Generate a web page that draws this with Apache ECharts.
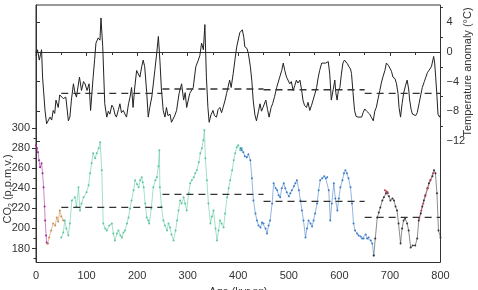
<!DOCTYPE html>
<html>
<head>
<meta charset="utf-8">
<script src="https://cdn.jsdelivr.net/npm/echarts@6/dist/echarts.min.js"></script>
<style>
    html, body { margin: 0; padding: 0; background: #fff; }
    #chart { width: 478px; height: 290px; }
</style>
</head>
<body>
<div id="chart"></div>
<script>
// age (kyr BP), temperature anomaly (deg C)
var tempData = [
    [0, -0.5], [1.3, -0.6], [3, 0.3], [6.5, -1.1], [9, -0.3], [11, 0.3], [13, -3.4], [17.8, -7.9],
    [21, -9.7], [24, -9.5], [27.7, -8.8], [31, -9.2], [34, -7.9], [37, -8.3], [39.5, -6.5], [44, -7.5],
    [47, -5.8], [50.7, -5.6], [54, -6.3], [59, -6.1], [64, -9.3], [67, -8.8], [70, -6.5], [74, -4.3],
    [77, -5.5], [80, -6.1], [86, -3.4], [90, -5.2], [94, -4.0], [97, -4.3], [101, -5.2], [105, -4.3],
    [108, -7.9], [113, -3.4], [116, -1.0], [118.6, 1.2], [123, 1.9], [126.5, 1.6], [128.5, 4.6], [132, 0.7],
    [136, -7], [140, -8.8], [143, -8.0], [146, -8.4], [150, -7.2], [153, -7.5], [156, -8.4], [159, -8.8],
    [163, -7.8], [166, -7], [169, -8.2], [172.6, -7.9], [176, -8.4], [179, -8.8], [183, -7.0], [186, -6.1],
    [189, -4.8], [192, -7.5], [195, -5.0], [199, -2.5], [205.5, -3.4], [209, -2.0], [212, -1.1], [215, -2.0],
    [219, -5.5], [222, -8.8], [225, -7.5], [229, -6.1], [235, -2.5], [239, 0.0], [242, 2.1], [245, -1.1],
    [248, -5.0], [251.6, -7.9], [255, -8.8], [258, -7.5], [261, -8.6], [265, -8.4], [268, -9.5], [271, -9.3],
    [275, -8.5], [278, -7.9], [283, -5.6], [288, -4.3], [292, -6.5], [295, -5.5], [298, -7.5], [304, -5.6],
    [311, -4.8], [316, -2.0], [321, -1.1], [324, -0.5], [327.5, 1.2], [331, 0.3], [334, 3.7], [337, -3.4],
    [340, -7.5], [342.5, -9.5], [346, -8.5], [350, -7.9], [353, -8.6], [357, -8.8], [360, -7.8], [363.6, -7.5],
    [367, -8.2], [370, -7.5], [374, -6.5], [377, -5.6], [383, -3.8], [386, -4.8], [390, -2.9], [394, -0.8],
    [397, 0.7], [403, 2.6], [408, 3.0], [411, 2.0], [413, 0.7], [417, 0.5], [420, -0.2], [424, -2.0],
    [427, -4.0], [429.5, -6.5], [433, -8.5], [436, -9.3], [440, -8.0], [443, -7.0], [446, -8.0], [449, -7.5],
    [454.5, -6.5], [458, -7.8], [461, -8.8], [465, -7.5], [468, -7.0], [472, -6.0], [476, -4.8], [482, -3.4],
    [486, -2.5], [489, -1.5], [492, -2.5], [495.5, -3.4], [499, -3.5], [502, -4.3], [505, -4.0], [508.5, -5.2],
    [512, -4.5], [515, -3.8], [518, -4.2], [522, -3.8], [525, -5.0], [528, -6.5], [531, -7.2], [535, -7.5],
    [538, -6.8], [541.5, -7.9], [545, -7.2], [548, -6.5], [551, -5.8], [555, -4.8], [558, -3.5], [561, -2.5],
    [565, -1.5], [568, -1.3], [573, -1.5], [578, -1.3], [581, -3.0], [584, -6.5], [588, -5.0], [591, -3.8],
    [593, -5.5], [595.5, -6.5], [598, -5.2], [601, -4.8], [604, -3.0], [607, -1.5], [610, -1.1], [613, -1.1],
    [616, -1.6], [619, -2.0], [622, -2.3], [624, -2.9], [627, -5.5], [630, -7.9], [633, -8.7], [637, -8.8],
    [640, -8.7], [644, -8.8], [647, -8.2], [650, -7.7], [654, -8.0], [657, -7.9], [660, -8.4], [663, -8.8],
    [667, -9.3], [670, -8.0], [673, -7.5], [676, -6.5], [680, -5.2], [683, -4.2], [686, -3.4], [690, -2.5],
    [693, -1.5], [697, -1.8], [700, -2.0], [703, -2.6], [706, -3.4], [710, -3.6], [713, -4.3], [716, -5.6],
    [718, -7.5], [721, -8.8], [724, -7.0], [727, -5.6], [731, -4.5], [734, -3.8], [737, -5.0], [739, -6.5],
    [742, -7.8], [744.5, -8.4], [748, -8.6], [751, -8.6], [754, -8.2], [757.5, -7.0], [761, -5.8], [764, -4.8],
    [768, -4.0], [771, -3.4], [774, -2.8], [777, -2.5], [782, -2.0], [786.5, -0.6], [788.5, -1.5], [790.5, -3.4],
    [793, -6.0], [795, -8.4], [798, -8.8], [800, -8.5]
];

// CO2 records (age kyr BP, ppmv), one array per ice-core section
var co2Purple = [
    [0, 283], [2, 280], [4, 276], [6, 268], [8, 261], [11, 265], [13, 255], [15, 241], [17, 222],
    [18, 208], [20, 193], [21, 186], [23, 185]
];
var co2Orange = [
    [23, 185], [26, 191], [30, 198], [34, 205], [38, 203], [41, 211], [44, 207], [47, 218], [50, 212], [54, 208]
];
var co2Green = [
    [50, 191], [54, 196], [57, 208], [60, 200], [64, 193], [67, 205], [71, 228], [77, 231], [80, 222],
    [84, 241], [87, 218], [90, 225], [94, 231], [100, 236], [104, 243], [107, 255], [110, 265], [113, 275],
    [117, 270], [120, 275], [124, 280], [127, 286], [130, 258], [133, 205], [137, 200], [140, 198], [145, 203],
    [150, 205], [153, 195], [156, 188], [160, 195], [163, 198], [167, 193], [170, 191], [173, 196], [176, 198],
    [180, 205], [183, 211], [186, 220], [189, 228], [193, 238], [196, 248], [200, 244], [203, 241], [206, 248],
    [209, 251], [211, 246], [213, 241], [216, 225], [219, 211], [222, 208], [224, 205], [228, 220], [232, 241],
    [236, 248], [239, 251], [242, 262], [244, 278], [245, 241], [248, 222], [252, 208], [255, 203], [259, 198],
    [262, 205], [265, 201], [268, 194], [272, 188], [276, 198], [279, 208], [282, 218], [285, 228], [288, 225],
    [292, 231], [295, 225], [298, 218], [302, 235], [305, 245], [308, 248], [312, 251], [315, 255], [318, 258],
    [322, 266], [325, 275], [328, 280], [331, 288], [333, 298], [335, 270], [338, 248], [341, 225], [345, 205],
    [348, 212], [351, 218], [355, 200], [358, 188], [361, 198], [364, 208], [367, 205], [371, 201], [374, 215],
    [378, 231], [381, 240], [384, 248], [388, 258], [391, 268], [394, 275], [397, 281], [400, 283], [404, 278],
    [407, 280]
];
var co2Blue = [
    [405, 280], [407, 278], [410, 276], [413, 272], [417, 271], [420, 274], [424, 268], [427, 250], [430, 228],
    [434, 215], [437, 208], [440, 203], [444, 201], [447, 206], [450, 205], [454, 200], [457, 195], [460, 203],
    [463, 208], [467, 225], [470, 245], [474, 240], [477, 238], [480, 233], [483, 231], [486, 240], [490, 245],
    [493, 240], [496, 236], [500, 232], [503, 235], [506, 238], [510, 242], [513, 245], [516, 248], [520, 238],
    [523, 228], [526, 218], [529, 208], [533, 191], [536, 200], [539, 208], [543, 205], [546, 202], [549, 208],
    [552, 215], [556, 225], [559, 238], [562, 248], [566, 250], [570, 252], [573, 250], [576, 251], [579, 238],
    [582, 208], [585, 225], [589, 245], [592, 230], [596, 218], [599, 230], [602, 241], [606, 248], [609, 255],
    [612, 258], [615, 255], [618, 250], [622, 241], [625, 225], [628, 205], [631, 198], [635, 195], [638, 193],
    [642, 192], [645, 190], [648, 190], [652, 194], [655, 190], [658, 191], [662, 188], [665, 185], [668, 173]
];
var co2Black = [
    [668, 173], [671, 190], [675, 211], [678, 216], [681, 221], [685, 228], [688, 231], [692, 235], [695, 236],
    [698, 232], [701, 228], [705, 230], [708, 228], [711, 222], [714, 218], [717, 205], [721, 185], [724, 200],
    [727, 208], [730, 210], [734, 205], [737, 198], [741, 181], [745, 183], [750, 183], [754, 190], [757, 208],
    [761, 215], [764, 222], [767, 228], [770, 233], [774, 240], [777, 245], [780, 248], [784, 252], [787, 258],
    [790, 255], [793, 235], [796, 198], [800, 191]
];
var co2Red = [
    [690, 238], [693, 237], [696, 235], '-', [758, 210], [762, 218], [766, 225], [770, 232], [775, 240],
    [780, 248], [785, 255]
];

// interval means drawn as dashed lines
var meanStart = [50, 250, 450, 650];
var meanEnd = [250, 450, 650, 800];
var tempMeans = [-5.6, -5.0, -5.1, -5.6];
var co2Means = [221, 234, 227, 211];

var co2Labels = [180, 200, 220, 240, 260, 280, 300];
var co2Minor = [170, 190, 210, 230, 250, 270, 290];
var tempLabels = [4, 0, -4, -8, -12];
var tempMinor = [6, 2, -2, -6, -10];

class IceCoreChart {

    constructor(elementId) {
        this._echarts = echarts.init(document.getElementById(elementId), null, {renderer: 'canvas'});
        this._echarts.setOption(this.buildOption());
    }

    co2Series(name, data, color) {
        return {
            name: name,
            type: 'line',
            xAxisIndex: 0,
            yAxisIndex: 0,
            data: data,
            symbol: 'circle',
            symbolSize: 2,
            showSymbol: true,
            connectNulls: false,
            itemStyle: { color: color },
            lineStyle: { color: color, width: 0.8, opacity: 0.7 },
            animation: false,
            z: 3
        };
    }

    meanSeries(yIndex, values) {
        var list = [];
        for (let i = 0; i < values.length; i++) {
            list.push({
                type: 'line',
                xAxisIndex: 0,
                yAxisIndex: yIndex,
                data: [[meanStart[i], values[i]], [meanEnd[i], values[i]]],
                showSymbol: false,
                lineStyle: { color: '#333', width: 1.4, type: [7, 5] },
                animation: false,
                z: 4
            });
        }
        return list;
    }

    buildOption() {
        var font = 'Liberation Sans, Arial, sans-serif';
        var axisColor = '#333';
        var minus = function (v) { return String(v).replace('-', '\u2212'); };

        var series = [
            {
                name: 'temperature',
                type: 'line',
                xAxisIndex: 0,
                yAxisIndex: 1,
                data: tempData,
                showSymbol: false,
                lineStyle: { color: '#222', width: 1 },
                animation: false,
                z: 3
            },
            this.co2Series('purple', co2Purple, '#a3249a'),
            this.co2Series('orange', co2Orange, '#c98c52'),
            this.co2Series('green', co2Green, '#5cc79d'),
            this.co2Series('blue', co2Blue, '#3d7cc6'),
            this.co2Series('black', co2Black, '#333333'),
            this.co2Series('red', co2Red, '#c2455a')
        ];
        series = series.concat(this.meanSeries(1, tempMeans), this.meanSeries(0, co2Means));

        return {
            backgroundColor: '#fff',
            animation: false,
            textStyle: { fontFamily: font },
            grid: {
                left: 36, right: 37.5, top: 5, bottom: 27.5,
                outerBoundsMode: 'none',
                containLabel: false,
                show: true, borderColor: axisColor, borderWidth: 1
            },
            xAxis: [
                {
                    type: 'value', position: 'bottom',
                    min: 0, max: 800, interval: 100,
                    axisLine: { show: true, lineStyle: { color: axisColor } },
                    axisTick: { show: true, length: 4, lineStyle: { color: axisColor } },
                    minorTick: { show: true, splitNumber: 2, length: 3, lineStyle: { color: axisColor } },
                    axisLabel: { color: '#333', fontSize: 11, margin: 8, fontFamily: font },
                    splitLine: { show: false },
                    name: 'Age (kyr {s|BP})',
                    nameLocation: 'middle',
                    nameGap: 20,
                    nameTextStyle: {
                        color: '#333', fontSize: 11, fontFamily: font,
                        rich: { s: { fontSize: 8, color: '#333', fontFamily: font } }
                    }
                },
                {
                    type: 'value', position: 'top',
                    min: 0, max: 800, interval: 50,
                    axisLine: { show: true, lineStyle: { color: axisColor } },
                    axisTick: { show: true, inside: true, length: 3, lineStyle: { color: axisColor } },
                    axisLabel: { show: false },
                    splitLine: { show: false }
                }
            ],
            yAxis: [
                {
                    type: 'value', position: 'left',
                    min: 166, max: 423,
                    axisLine: { show: true, lineStyle: { color: axisColor } },
                    axisTick: { show: true, length: 4, customValues: co2Labels, lineStyle: { color: axisColor } },
                    axisLabel: { color: '#333', fontSize: 11, margin: 6, customValues: co2Labels, fontFamily: font },
                    splitLine: { show: false }
                },
                {
                    type: 'value', position: 'right',
                    min: -28.45, max: 6.35,
                    axisLine: { show: true, lineStyle: { color: axisColor } },
                    axisTick: { show: true, length: 4, customValues: tempLabels, lineStyle: { color: axisColor } },
                    axisLabel: {
                        color: '#333', fontSize: 11, margin: 6, customValues: tempLabels,
                        formatter: minus, fontFamily: font
                    },
                    splitLine: { show: false }
                },
                {
                    type: 'value', position: 'left',
                    min: 166, max: 423,
                    axisLine: { show: false },
                    axisTick: { show: true, length: 2.5, customValues: co2Minor, lineStyle: { color: axisColor } },
                    axisLabel: { show: false },
                    splitLine: { show: false }
                },
                {
                    type: 'value', position: 'right',
                    min: -28.45, max: 6.35,
                    axisLine: { show: false },
                    axisTick: { show: true, length: 2.5, customValues: tempMinor, lineStyle: { color: axisColor } },
                    axisLabel: { show: false },
                    splitLine: { show: false }
                }
            ],
            graphic: [
                {
                    type: 'text',
                    x: 8, y: 189,
                    rotation: Math.PI / 2,
                    style: {
                        text: 'CO{s|2} (p.p.m.v.)',
                        fill: '#333',
                        fontSize: 11,
                        fontFamily: font,
                        align: 'center',
                        verticalAlign: 'middle',
                        rich: { s: { fontSize: 7, fill: '#333', padding: [6, 0, 0, 0], fontFamily: font } }
                    }
                },
                {
                    type: 'text',
                    x: 468, y: 72,
                    rotation: Math.PI / 2,
                    style: {
                        text: 'Temperature anomaly (\u00b0C)',
                        fill: '#333',
                        fontSize: 11,
                        fontFamily: font,
                        align: 'center',
                        verticalAlign: 'middle'
                    }
                }
            ],
            series: series
        };
    }
}

new IceCoreChart('chart');
</script>
</body>
</html>
